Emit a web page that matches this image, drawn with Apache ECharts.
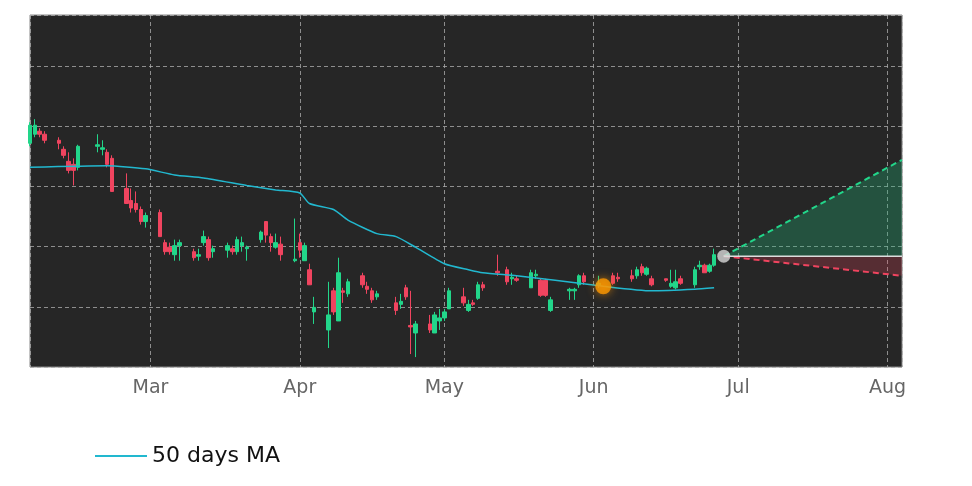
<!DOCTYPE html>
<html><head><meta charset="utf-8">
<script src="https://cdn.jsdelivr.net/npm/echarts@6/dist/echarts.min.js"></script>
<style>html,body{margin:0;background:#fff}#c{width:972px;height:486px}</style>
</head><body><div id="c"></div>
<script>
// [date, open, close, low, high]
const candles = [
['2023-02-04',20.8,21.4,20.7,21.5],['2023-02-05',21.1,21.4,21.0,21.6],['2023-02-06',21.2,21.1,21.0,21.3],
['2023-02-07',21.1,20.9,20.8,21.2],['2023-02-10',20.9,20.8,20.6,21.0],['2023-02-11',20.6,20.4,20.3,20.7],
['2023-02-12',20.2,19.9,19.8,20.5],['2023-02-13',20.1,19.9,19.4,20.3],['2023-02-14',20.0,20.7,19.9,20.75],
['2023-02-18',20.7,20.75,20.5,21.1],['2023-02-19',20.6,20.65,20.4,20.9],['2023-02-20',20.5,20.1,20.0,20.6],
['2023-02-21',20.3,19.2,19.2,20.4],['2023-02-24',19.3,18.8,18.8,19.8],['2023-02-25',18.9,18.65,18.5,19.3],
['2023-02-26',18.8,18.6,18.5,19.2],['2023-02-27',18.6,18.2,18.1,18.7],['2023-02-28',18.2,18.4,18.0,18.5],
['2023-03-03',18.5,17.7,17.7,18.6],['2023-03-04',17.5,17.2,17.1,17.6],['2023-03-05',17.35,17.2,17.1,17.5],
['2023-03-06',17.1,17.4,16.9,17.6],['2023-03-07',17.4,17.5,16.9,17.6],['2023-03-10',17.2,17.0,16.9,17.3],
['2023-03-11',17.05,17.1,16.9,17.3],['2023-03-12',17.5,17.7,17.4,17.9],['2023-03-13',17.6,17.0,16.9,17.7],
['2023-03-14',17.2,17.3,17.0,17.4],['2023-03-17',17.25,17.4,17.0,17.5],['2023-03-18',17.3,17.2,17.1,17.4],
['2023-03-19',17.2,17.6,17.1,17.7],['2023-03-20',17.4,17.5,17.2,17.7],['2023-03-21',17.3,17.35,16.9,17.4],
['2023-03-24',17.6,17.85,17.5,17.9],['2023-03-25',18.2,17.75,17.5,18.2],['2023-03-26',17.7,17.5,17.2,17.8],
['2023-03-27',17.35,17.5,17.3,17.8],['2023-03-28',17.45,17.1,16.9,17.7],['2023-03-31',16.9,16.95,16.85,18.3],
['2023-04-01',17.5,17.25,17.0,17.8],['2023-04-02',16.9,17.4,16.9,17.5],['2023-04-03',16.6,16.1,16.1,16.8],
['2023-04-04',15.2,15.35,14.8,15.7],['2023-04-07',14.6,15.1,14.0,16.2],['2023-04-08',15.9,15.2,15.1,16.0],
['2023-04-09',14.9,16.5,14.9,17.0],['2023-04-10',15.9,15.85,15.5,16.0],['2023-04-11',15.8,16.2,15.7,16.3],
['2023-04-14',16.4,16.1,16.0,16.5],['2023-04-15',16.05,15.95,15.8,16.2],['2023-04-16',15.9,15.6,15.5,16.0],
['2023-04-17',15.7,15.8,15.6,15.9],['2023-04-21',15.5,15.25,15.1,15.7],['2023-04-22',15.45,15.55,15.3,15.8],
['2023-04-23',16.0,15.7,15.6,16.1],['2023-04-24',14.75,14.7,13.8,15.9],['2023-04-25',14.5,14.8,13.7,14.9],
['2023-04-28',14.8,14.6,14.5,15.1],['2023-04-29',14.5,15.1,14.5,15.2],['2023-04-30',14.9,15.0,14.6,15.3],
['2023-05-01',15.0,15.2,14.9,15.3],['2023-05-02',15.3,15.9,15.3,16.0],['2023-05-05',15.7,15.5,15.4,16.0],
['2023-05-06',15.25,15.45,15.2,15.6],['2023-05-07',15.5,15.45,15.4,15.6],['2023-05-08',15.65,16.1,15.6,16.2],
['2023-05-09',16.1,16.0,15.9,16.2],['2023-05-12',16.55,16.5,16.4,17.1],['2023-05-14',16.6,16.2,16.1,16.7],
['2023-05-15',16.3,16.35,16.1,16.5],['2023-05-16',16.3,16.25,16.2,16.4],['2023-05-19',16.0,16.5,16.0,16.6],
['2023-05-20',16.4,16.45,16.3,16.6],['2023-05-21',16.25,15.75,15.7,16.3],['2023-05-22',16.25,15.75,15.7,16.3],
['2023-05-23',15.25,15.6,15.2,15.7],['2023-05-27',15.9,15.95,15.6,16.0],['2023-05-28',15.9,15.95,15.6,16.0],
['2023-05-29',16.1,16.4,16.0,16.45],['2023-05-30',16.4,16.2,16.1,16.5],['2023-06-02',16.1,16.15,16.0,16.4],
['2023-06-05',16.4,16.15,16.1,16.5],['2023-06-06',16.35,16.3,16.2,16.5],['2023-06-09',16.4,16.3,16.2,16.6],
['2023-06-10',16.4,16.6,16.3,16.7],['2023-06-11',16.7,16.5,16.4,16.8],['2023-06-12',16.45,16.65,16.4,16.7],
['2023-06-13',16.3,16.1,16.05,16.4],['2023-06-16',16.3,16.25,16.2,16.3],['2023-06-17',16.05,16.15,16.0,16.6],
['2023-06-18',16.0,16.2,15.95,16.6],['2023-06-19',16.3,16.15,16.1,16.4],['2023-06-22',16.1,16.6,16.0,16.7],
['2023-06-23',16.7,16.75,16.6,16.9],['2023-06-24',16.75,16.5,16.5,16.8],['2023-06-25',16.55,16.75,16.5,16.8],
['2023-06-26',16.75,17.1,16.7,17.3]
];
const maDates = ['2023-02-04','2023-02-20','2023-02-28','2023-03-06','2023-03-12','2023-03-21','2023-03-27','2023-04-01','2023-04-03','2023-04-08','2023-04-11','2023-04-17','2023-04-21','2023-04-25','2023-05-01','2023-05-06','2023-05-09','2023-05-16','2023-05-24','2023-06-03','2023-06-13','2023-06-22','2023-06-26'];
const maValues = [20.0,20.05,19.95,19.75,19.65,19.4,19.25,19.15,18.8,18.6,18.25,17.8,17.7,17.35,16.8,16.6,16.5,16.4,16.25,16.05,15.9,15.95,16.0];
const markerDate = '2023-06-03', markerValue = 16.05;
const lastDate = '2023-06-28', lastValue = 17.05;
const projDate = '2023-08-04', projHigh = 20.25, projLow = 16.4;
const yTicks = [14,16,18,20,22,24];
const monthNames = ['Jan','Feb','Mar','Apr','May','Jun','Jul','Aug','Sep','Oct','Nov','Dec'];

const chart = echarts.init(document.getElementById('c'));
chart.setOption({
  backgroundColor:'#fff', animation:false,
  grid:{left:30,right:70,top:15,bottom:119,show:true,backgroundColor:'#262626',borderColor:'#888',borderWidth:1},
  legend:{left:90,top:440,itemWidth:52,itemHeight:2,itemGap:10,textStyle:{fontSize:22,color:'#111',fontFamily:'DejaVu Sans'},
    data:[{name:'50 days MA',icon:'rect'}]},
  xAxis:{type:'time',min:'2023-02-04',max:projDate,minInterval:28*864e5,maxInterval:31*864e5,
    axisLine:{show:false},axisTick:{show:false},
    axisLabel:{fontSize:19,color:'#666',margin:12,fontFamily:'DejaVu Sans',
      formatter:v=>{const d=new Date(v);return d.getDate()===1?monthNames[d.getMonth()]:'';}},
    splitLine:{show:true,lineStyle:{color:'#aaa',type:[4,3],width:0.8}}},
  yAxis:{type:'value',position:'right',min:13.37,max:25.06,interval:2,
    axisLine:{show:false},axisTick:{show:false},
    axisLabel:{fontSize:19,color:'#666',margin:6,fontFamily:'DejaVu Sans',
      formatter:v=>yTicks.includes(Math.round(v))&&Math.abs(v-Math.round(v))<0.01?String(Math.round(v)):''},
    splitLine:{show:true,lineStyle:{color:'#aaa',type:[4,3],width:0.8}}},
  series:[
    {type:'line',name:'up',data:[[lastDate,lastValue],[projDate,projHigh]],symbol:'none',
      lineStyle:{color:'#22d68a',type:[6,4],width:2},areaStyle:{origin:lastValue,color:'rgba(34,180,120,0.45)'},z:2},
    {type:'line',name:'down',data:[[lastDate,lastValue],[projDate,projLow]],symbol:'none',
      lineStyle:{color:'#f0445f',type:[6,4],width:2},areaStyle:{origin:lastValue,color:'rgba(240,68,95,0.35)'},z:2},
    {type:'line',name:'base',data:[[lastDate,lastValue],[projDate,lastValue]],symbol:'none',
      lineStyle:{color:'#ddd',width:1.5},z:3},
    {type:'candlestick',name:'price',data:candles,barWidth:4,
      itemStyle:{color:'#22d68a',color0:'#f0445f',borderColor:'#22d68a',borderColor0:'#f0445f',borderWidth:1},z:4},
    {type:'line',name:'50 days MA',data:maDates.map((d,i)=>[d,maValues[i]]),symbol:'none',smooth:0.2,
      lineStyle:{color:'#22b8cf',width:1.5},itemStyle:{color:'#22b8cf'},z:5},
    {type:'scatter',name:'marker',data:[[markerDate,markerValue]],symbolSize:16,
      itemStyle:{color:'#ff9900',shadowBlur:10,shadowColor:'rgba(255,150,0,0.8)'},z:6},
    {type:'scatter',name:'last',data:[[lastDate,lastValue]],symbolSize:13,itemStyle:{color:'#d8d8d8'},z:6}
  ]
});
</script></body></html>
